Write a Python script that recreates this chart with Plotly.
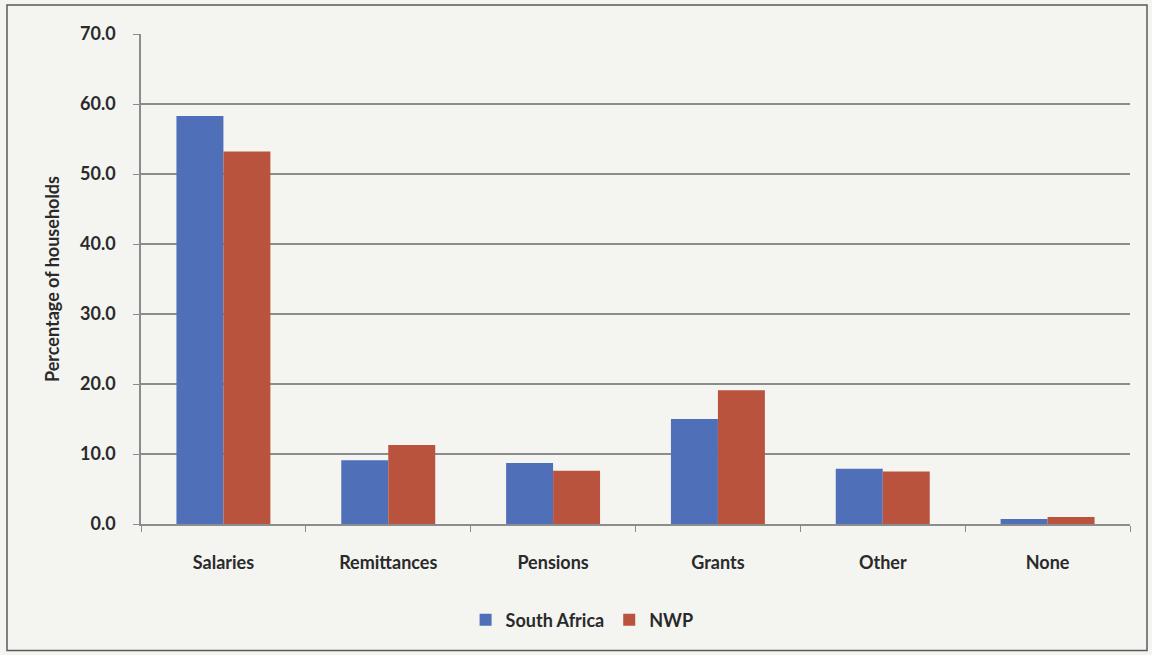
import plotly.graph_objects as go

categories = ["Salaries", "Remittances", "Pensions", "Grants", "Other", "None"]
south_africa = [58.3, 9.1, 8.7, 15.0, 7.9, 0.7]
nwp = [53.2, 11.3, 7.6, 19.1, 7.5, 1.0]
y_ticks = [0, 10, 20, 30, 40, 50, 60, 70]
y_tick_labels = [f"{v:.1f}" for v in y_ticks]

BLUE = "#4f70b8"
RED = "#b9533e"
GRID = "#8c8c8c"
TEXT = "#2a2a2a"
FONT = "Lato"

fig = go.Figure()
fig.add_trace(go.Bar(x=categories, y=south_africa, name="South Africa",
                     marker=dict(color=BLUE, line=dict(width=0))))
fig.add_trace(go.Bar(x=categories, y=nwp, name="NWP",
                     marker=dict(color=RED, line=dict(width=0))))

fig.update_layout(
    width=1152, height=655,
    margin=dict(l=141, r=22, t=34, b=131),
    paper_bgcolor="#f4f4f1",
    plot_bgcolor="#f4f4f1",
    barmode="group",
    bargap=0.43,
    bargroupgap=0,
    font=dict(family=FONT, color=TEXT),
    showlegend=True,
    legend=dict(orientation="h", x=0.446, xanchor="center", y=-0.196, yanchor="middle",
                font=dict(family=FONT, size=18, color=TEXT, weight="bold"),
                itemwidth=30, traceorder="normal", bgcolor="rgba(0,0,0,0)"),
    xaxis=dict(
        showline=True, linecolor=GRID, linewidth=1.5,
        ticks="outside", tickson="boundaries", ticklen=6, tickcolor=GRID,
        tickfont=dict(family=FONT, size=18, color=TEXT, weight="bold"),
        ticklabelstandoff=22,
        showgrid=False,
    ),
    yaxis=dict(
        range=[0, 70], tickvals=y_ticks, ticktext=y_tick_labels,
        showline=True, linecolor=GRID, linewidth=1.5,
        ticks="outside", ticklen=6, tickcolor=GRID,
        tickfont=dict(family=FONT, size=18, color=TEXT, weight="bold"),
        ticklabelstandoff=14,
        showgrid=True, gridcolor=GRID, gridwidth=1.5,
        zeroline=False,
        title=dict(text="Percentage of households", standoff=16,
                   font=dict(family=FONT, size=18, color=TEXT, weight="bold")),
    ),
    shapes=[dict(type="rect", xref="paper", yref="paper",
                 x0=-0.1355, x1=1.0172, y0=-0.258, y1=1.0592,
                 line=dict(color="#5a5a5a", width=1.5), fillcolor="rgba(0,0,0,0)",
                 layer="below")],
)

fig.write_html("out.html")
